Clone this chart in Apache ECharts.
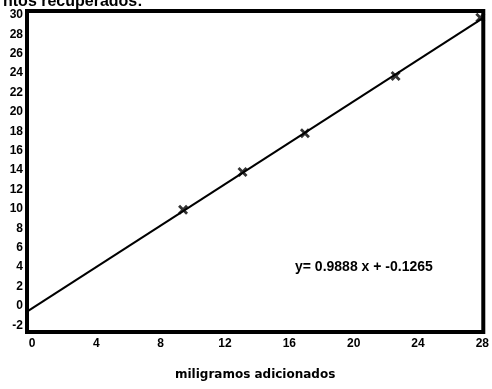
<!DOCTYPE html>
<html>
<head>
<meta charset="utf-8">
<script src="https://cdn.jsdelivr.net/npm/echarts@6/dist/echarts.min.js"></script>
<style>
  html, body { margin: 0; padding: 0; background: #fff; }
  #chart { width: 492px; height: 389px; }
</style>
</head>
<body>
<div id="chart"></div>
<script>
// puntos medidos (mg adicionados / mg recuperados)
const addedMg = [10, 14, 18.2, 24.3, 30];
const recoveredMg = [9.9, 13.8, 17.8, 23.7, 29.7];
// recta de ajuste, extremos
const fitX = [-0.5, 30.2];
const fitY = [-0.6, 29.7];
const yTicks = [-2, 0, 2, 4, 6, 8, 10, 12, 14, 16, 18, 20, 22, 24, 26, 28, 30];
const xTicks = [0, 4, 8, 12, 16, 20, 24, 28];
const equation = 'y= 0.9888 x + -0.1265';

const myChart = echarts.init(document.getElementById('chart'));
const font = 'Liberation Sans, Arial, sans-serif';
const xMark = 'path://M0,2L2,0L5,3L8,0L10,2L7,5L10,8L8,10L5,7L2,10L0,8L3,5Z';

myChart.setOption({
  animation: false,
  title: {
    text: 'ntos recuperados:',
    left: -2,
    top: -11,
    textStyle: { fontFamily: font, fontSize: 16, fontWeight: 'bold', color: '#000' }
  },
  grid: {
    left: 27, right: 3, top: 11, bottom: 57,
    show: true, borderColor: '#000', borderWidth: 4, backgroundColor: '#fff'
  },
  xAxis: [
    {
      type: 'value', min: -0.5, max: 30.2,
      axisLine: { show: false }, axisTick: { show: false },
      axisLabel: { show: false }, splitLine: { show: false }
    },
    {
      type: 'value', min: -0.31, max: 28.06, position: 'bottom',
      axisLine: { show: false }, axisTick: { show: false }, splitLine: { show: false },
      axisLabel: {
        customValues: xTicks, showMinLabel: true, showMaxLabel: true,
        margin: 6, fontFamily: font, fontSize: 12, fontWeight: 'bold', color: '#000'
      },
      name: 'miligramos adicionados', nameLocation: 'middle', nameGap: 37,
      nameTextStyle: { fontFamily: 'DejaVu Sans', fontSize: 12, fontWeight: 'bold', color: '#000' }
    }
  ],
  yAxis: {
    type: 'value', min: -2.7, max: 30.4,
    axisLine: { show: false }, axisTick: { show: false }, splitLine: { show: false },
    axisLabel: {
      customValues: yTicks, showMinLabel: true, showMaxLabel: true,
      margin: 4, fontFamily: font, fontSize: 12, fontWeight: 'bold', color: '#000'
    }
  },
  graphic: [{
    type: 'text', left: 295, top: 260,
    style: { text: equation, fontFamily: font, fontSize: 14, fontWeight: 'bold', fill: '#000' }
  }],
  series: [
    {
      type: 'line', xAxisIndex: 0,
      data: fitX.map((x, i) => [x, fitY[i]]),
      symbol: 'none', lineStyle: { color: '#000', width: 2 }
    },
    {
      type: 'scatter', xAxisIndex: 0,
      data: addedMg.map((x, i) => [x, recoveredMg[i]]),
      symbol: xMark, symbolSize: 10,
      itemStyle: { color: '#000' }
    }
  ]
});
</script>
</body>
</html>
